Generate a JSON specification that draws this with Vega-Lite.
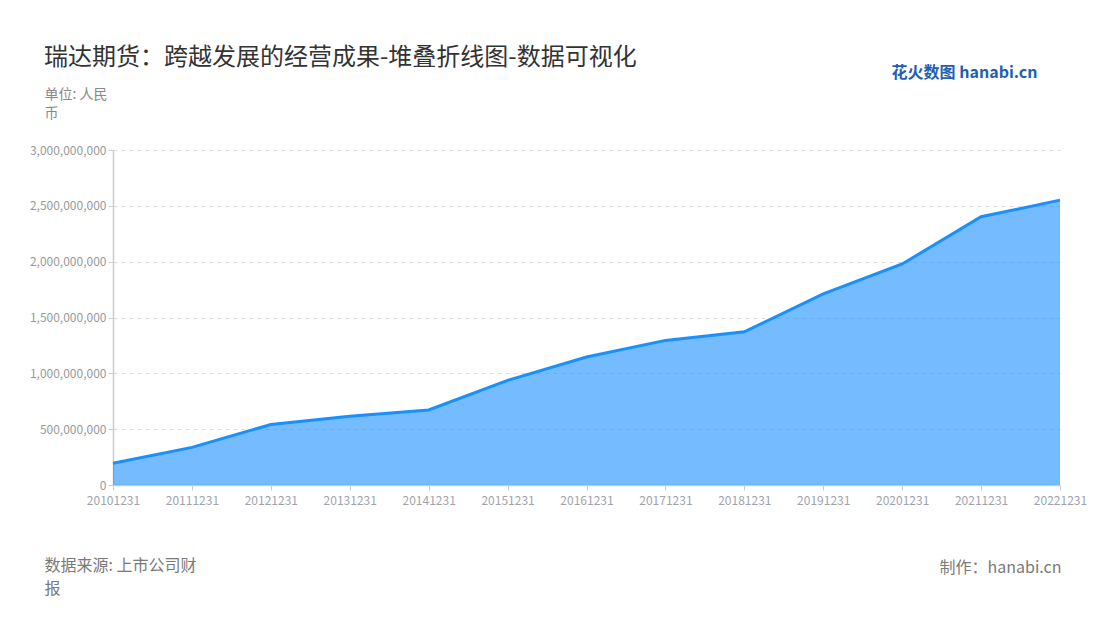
{
  "$schema": "https://vega.github.io/schema/vega-lite/v6.json",
  "width": 947,
  "height": 335,
  "autosize": {"type": "none"},
  "padding": {"left": 113, "top": 150, "right": 40, "bottom": 135},
  "background": "#ffffff",
  "config": {"font": "Noto Sans CJK SC", "view": {"stroke": null}},
  "title": {
    "text": "瑞达期货：跨越发展的经营成果-堆叠折线图-数据可视化",
    "anchor": "start",
    "frame": "group",
    "dx": -69,
    "offset": -6,
    "fontSize": 24,
    "fontWeight": "normal",
    "color": "#333333",
    "font": "Noto Sans CJK SC"
  },
  "data": {
    "values": [
      {"date": "20101231", "value": 194000000},
      {"date": "20111231", "value": 337000000},
      {"date": "20121231", "value": 542000000},
      {"date": "20131231", "value": 616000000},
      {"date": "20141231", "value": 672000000},
      {"date": "20151231", "value": 937000000},
      {"date": "20161231", "value": 1146000000},
      {"date": "20171231", "value": 1295000000},
      {"date": "20181231", "value": 1372000000},
      {"date": "20191231", "value": 1712000000},
      {"date": "20201231", "value": 1979000000},
      {"date": "20211231", "value": 2402000000},
      {"date": "20221231", "value": 2551000000}
    ]
  },
  "layer": [
    {
      "mark": {"type": "area", "color": "#1890ff", "opacity": 0.6},
      "encoding": {
        "x": {
          "field": "date", "type": "ordinal",
          "scale": {"type": "point", "padding": 0},
          "axis": {
            "orient": "bottom",
            "labelAngle": 0, "labelFontSize": 12, "labelColor": "#a0a3ad", "labelPadding": 5,
            "tickColor": "#cccccc", "tickSize": 5, "domainColor": "#cccccc", "domainWidth": 1.5,
            "grid": false,
            "title": ["数据来源: 上市公司财", "报"],
            "titleX": -69, "titleY": 72, "titleAlign": "left", "titleBaseline": "top",
            "titleFontSize": 16, "titleFontWeight": "normal", "titleColor": "#7a7a7a", "titleLineHeight": 23
          }
        },
        "y": {
          "field": "value", "type": "quantitative",
          "scale": {"domain": [0, 3000000000], "nice": false},
          "axis": {
            "orient": "left",
            "values": [0, 500000000, 1000000000, 1500000000, 2000000000, 2500000000, 3000000000],
            "format": ",d",
            "labelFontSize": 12, "labelColor": "#999999", "labelPadding": 2,
            "tickColor": "#cccccc", "tickSize": 5, "domainColor": "#cccccc", "domainWidth": 1.5,
            "grid": true, "gridDash": [4, 4], "gridColor": "#dddddd",
            "title": ["单位: 人民", "币"],
            "titleAngle": 0, "titleX": -69, "titleY": -63, "titleAlign": "left", "titleBaseline": "top",
            "titleFontSize": 14, "titleFontWeight": "normal", "titleColor": "#888888", "titleLineHeight": 19
          }
        }
      }
    },
    {
      "mark": {"type": "line", "color": "#1890ff", "strokeWidth": 3},
      "encoding": {
        "x": {
          "field": "date", "type": "ordinal",
          "scale": {"type": "point", "padding": 0},
          "axis": {
            "orient": "top", "labels": false, "ticks": false, "domain": false, "grid": false,
            "title": "花火数图 hanabi.cn",
            "titleX": 924, "titleY": -78, "titleAlign": "right", "titleBaseline": "middle",
            "titleFontSize": 16, "titleFontWeight": "bold", "titleColor": "#1f5fb5"
          }
        },
        "y": {
          "field": "value", "type": "quantitative",
          "scale": {"domain": [0, 3000000000], "nice": false},
          "axis": {
            "orient": "right", "labels": false, "ticks": false, "domain": false, "grid": false,
            "title": "制作：hanabi.cn",
            "titleAngle": 0, "titleX": 1, "titleY": 417, "titleAlign": "right", "titleBaseline": "middle",
            "titleFontSize": 16, "titleFontWeight": "normal", "titleColor": "#7a7a7a"
          }
        }
      }
    }
  ],
  "resolve": {"axis": {"x": "independent", "y": "independent"}}
}
